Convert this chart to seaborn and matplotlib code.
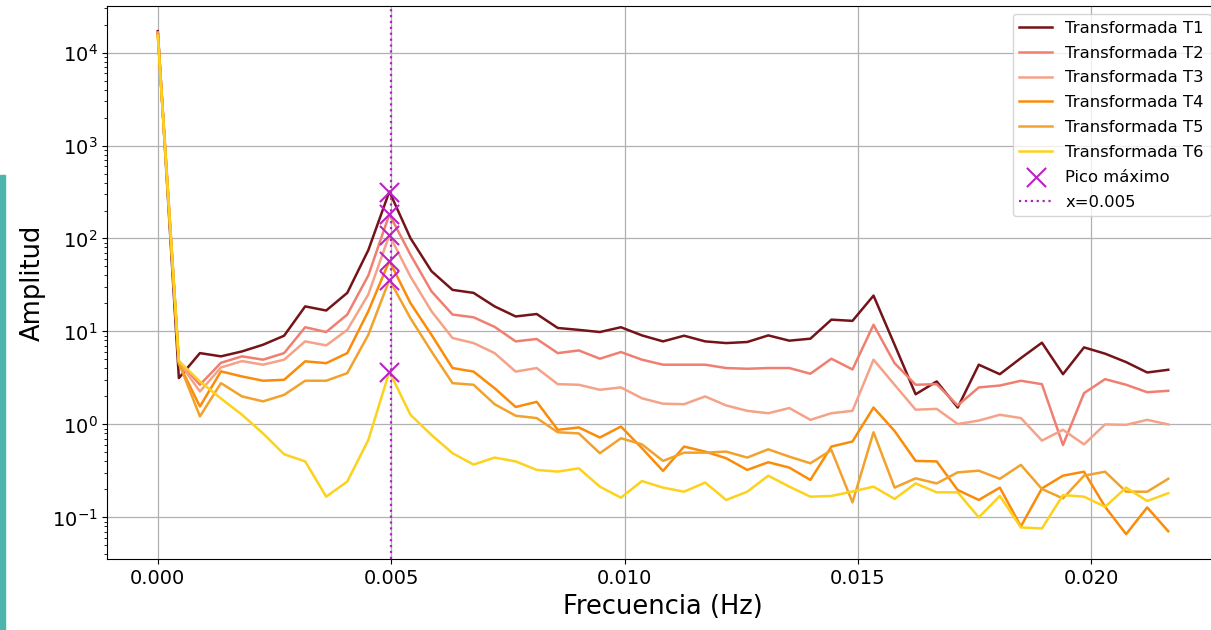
import numpy as np
import matplotlib
matplotlib.use("Agg")
import matplotlib.pyplot as plt
import seaborn as sns

# frequency bins (FFT grid, 49 bins)
df_hz = 0.000451
freq = np.arange(49) * df_hz

# amplitudes
t1 = [17000, 3.15, 5.85, 5.4, 6.1, 7.2, 9.0, 18.6, 16.8, 26, 75, 320, 101, 44.5, 28, 26, 18.6,
      14.5, 15.4, 10.9, 10.4, 9.86, 11.1, 9.07, 7.82, 9.0, 7.82, 7.5, 7.7, 9.07, 7.96, 8.36,
      13.4, 13.0, 24.3, 7.2, 2.11, 2.9, 1.52, 4.39, 3.47, 5.17, 7.57, 3.47, 6.74, 5.77, 4.68,
      3.62, 3.87]
t2 = [16500, 4.8, 2.67, 4.6, 5.4, 4.97, 5.85, 11.1, 9.86, 15.2, 40, 182, 67, 27, 15.2, 14.2, 11.2,
      7.82, 8.3, 5.85, 6.25, 5.09, 6.0, 4.97, 4.39, 4.39, 4.39, 4.04, 3.97, 4.04, 4.04, 3.51,
      5.09, 3.9, 11.8, 4.56, 2.67, 2.71, 1.6, 2.5, 2.62, 2.95, 2.71, 0.60, 2.17, 3.07, 2.67,
      2.22, 2.3]
t3 = [16200, 4.7, 2.26, 4.1, 4.8, 4.39, 4.97, 7.82, 7.08, 10.4, 25, 109, 39, 16.5, 8.5, 7.5, 5.85,
      3.7, 4.04, 2.71, 2.67, 2.36, 2.5, 1.91, 1.67, 1.65, 2.0, 1.6, 1.4, 1.32, 1.5, 1.12,
      1.32, 1.4, 4.97, 2.67, 1.44, 1.47, 1.01, 1.10, 1.27, 1.17, 0.67, 0.875, 0.61, 1.0, 0.99,
      1.12, 1.0]
t4 = [15800, 4.5, 1.56, 3.72, 3.28, 2.95, 3.02, 4.77, 4.56, 5.85, 16.5, 57.5, 20.2, 9.2, 4.04, 3.7,
      2.45, 1.54, 1.75, 0.875, 0.927, 0.723, 0.949, 0.555, 0.316, 0.578, 0.51, 0.433, 0.324,
      0.392, 0.343, 0.253, 0.578, 0.655, 1.52, 0.85, 0.405, 0.40, 0.197, 0.154, 0.209, 0.08,
      0.205, 0.281, 0.31, 0.13, 0.066, 0.128, 0.071]
t5 = [15500, 4.6, 1.22, 2.78, 2.0, 1.77, 2.08, 2.95, 2.95, 3.56, 9.2, 36, 13.9, 6.1, 2.78, 2.67,
      1.65, 1.24, 1.17, 0.824, 0.80, 0.49, 0.71, 0.61, 0.405, 0.497, 0.497, 0.51, 0.44, 0.54,
      0.45, 0.382, 0.53, 0.145, 0.824, 0.209, 0.263, 0.232, 0.305, 0.318, 0.26, 0.367, 0.202,
      0.16, 0.281, 0.31, 0.189, 0.189, 0.26]
t6 = [15200, 4.8, 2.9, 1.9, 1.27, 0.80, 0.478, 0.40, 0.167, 0.243, 0.68, 3.7, 1.27, 0.77, 0.49,
      0.37, 0.44, 0.40, 0.324, 0.311, 0.337, 0.214, 0.163, 0.246, 0.209, 0.189, 0.237, 0.154,
      0.189, 0.281, 0.214, 0.167, 0.17, 0.19, 0.214, 0.158, 0.232, 0.186, 0.186, 0.100, 0.17,
      0.078, 0.076, 0.174, 0.167, 0.130, 0.209, 0.150, 0.182]

series = [t1, t2, t3, t4, t5, t6]
labels = ["Transformada T1", "Transformada T2", "Transformada T3",
          "Transformada T4", "Transformada T5", "Transformada T6"]
colors = ["#741418", "#f07f72", "#f5a388", "#fb8c0a", "#f2a22c", "#fcd21c"]
f_line = 0.005

fig = plt.figure(figsize=(12.11, 6.3), dpi=100)
ax = fig.add_axes([0.0886, 0.1122, 0.9178, 0.8783])

for vals, lab, col in zip(series, labels, colors):
    sns.lineplot(x=freq, y=vals, color=col, label=lab, linewidth=1.8, ax=ax)

# peak of each series (ignoring the DC region)
mask = freq > 0.001
peak_x, peak_y = [], []
for vals in series:
    v = np.array(vals)
    i = np.argmax(np.where(mask, v, -np.inf))
    peak_x.append(freq[i])
    peak_y.append(v[i])

sns.scatterplot(x=peak_x, y=peak_y, marker="x", s=190, color="#bb22c4", linewidth=1.5,
                label="Pico máximo", ax=ax, zorder=5)
ax.axvline(f_line, color="#a826b8", linestyle=":", linewidth=1.6, label=f"x={f_line}")

ax.set_yscale("log")
ax.grid(True, which="major", color="#b0b0b0", linewidth=0.9)
ax.set_xlabel("Frecuencia (Hz)", fontsize=18.5)
ax.set_ylabel("Amplitud", fontsize=18.5)
ax.tick_params(axis="both", which="major", labelsize=14)
ax.legend(loc="upper right", fontsize=11.8, labelspacing=0.6)

# teal strip at left edge of the screenshot
fig.add_artist(plt.Rectangle((0, 0), 5 / 1211, 455 / 630, transform=fig.transFigure,
                             color="#4db6ac", zorder=0))

fig.savefig("out.png", dpi=100)
